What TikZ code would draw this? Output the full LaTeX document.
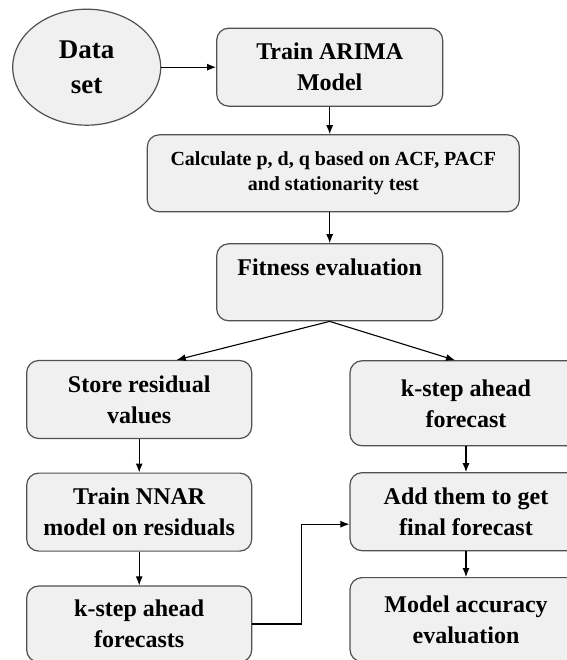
\documentclass[tikz,border=0pt]{standalone}
\usepackage{fontspec}
\setmainfont{Liberation Serif}
\usetikzlibrary{positioning,shapes.geometric,arrows.meta}
\definecolor{BoxFill}{RGB}{240,240,240}
\definecolor{BoxLine}{RGB}{80,80,80}

\begin{document}
\begin{tikzpicture}[
    x=1pt,y=-1pt,
    stage/.style={rectangle,rounded corners=12pt,draw=BoxLine,fill=BoxFill,line width=1.2pt,inner sep=0pt,align=center,font=\fontsize{24}{31}\selectfont\bfseries},
    source/.style={ellipse,draw=BoxLine,fill=BoxFill,line width=1.2pt,inner sep=0pt,minimum width=148pt,minimum height=116pt,align=center,font=\fontsize{27}{35}\selectfont\bfseries},
    arrow/.style={-{Latex[length=9pt,width=7pt]},line width=1.1pt}
]
\useasboundingbox (0,0) rectangle (566,660);

% top part (ARIMA)
\node[source] (data) at (86.7,67.2) {Data\\set};
\node[stage,minimum width=226pt,minimum height=78pt] (train) at (329.7,67.2) {Train ARIMA\\Model};
\node[stage,minimum width=372pt,minimum height=77pt,font=\fontsize{20}{25}\selectfont\bfseries] (calc) at (333.3,173.3) {Calculate p, d, q based on ACF, PACF\\and stationarity test};
\node[stage,minimum width=226pt,minimum height=77pt] (fit) at (329.7,282.3) {Fitness evaluation\\\mbox{}};

% left column (residuals)
\node[stage,minimum width=225pt,minimum height=78pt] (store) at (139.2,399.5) {Store residual\\values};
\node[stage,minimum width=225pt,minimum height=78pt,below=33.4pt of store] (nnar) {Train NNAR\\model on residuals};
\node[stage,minimum width=225pt,minimum height=76pt,below=33.7pt of nnar] (kfcs) {k-step ahead\\forecasts};

% right column
\node[stage,minimum width=232pt,minimum height=85pt] (kfc) at (466,403.3) {k-step ahead\\forecast};
\node[stage,minimum width=232pt,minimum height=78pt,below=25.7pt of kfc] (addf) {Add them to get\\final forecast};
\node[stage,minimum width=232pt,minimum height=84pt,below=25.7pt of addf] (acc) {Model accuracy\\evaluation};

\draw[arrow] (data) -- (train);
\draw[arrow] (train.south) -- (train.south |- calc.north);
\draw[arrow] (fit.north |- calc.south) -- (fit.north);
\draw[arrow] (fit.south) -- ([xshift=37.5pt]store.north);
\draw[arrow] (fit.south) -- ([xshift=-11pt]kfc.north);
\draw[arrow] (store) -- (nnar);
\draw[arrow] (nnar) -- (kfcs);
\draw[arrow] (kfc) -- (addf);
\draw[arrow] (addf) -- (acc);

% residual forecasts joined to ARIMA forecast
\draw[arrow] (kfcs.east) -- ++(49,0) |- ([yshift=-12.5pt]addf.west);

\end{tikzpicture}
\end{document}
